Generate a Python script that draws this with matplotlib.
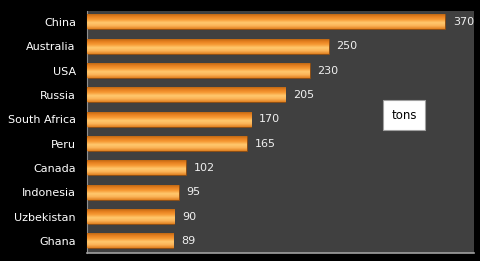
import numpy as np
import matplotlib
matplotlib.use('Agg')
import matplotlib.pyplot as plt
from matplotlib.colors import LinearSegmentedColormap

# gold production data
countries = ['China', 'Australia', 'USA', 'Russia', 'South Africa', 'Peru',
             'Canada', 'Indonesia', 'Uzbekistan', 'Ghana']
tons = [370, 250, 230, 205, 170, 165, 102, 95, 90, 89]

plt.rcParams['font.family'] = ['DejaVu Sans']

fig = plt.figure(figsize=(4.81, 2.61), dpi=100, facecolor='black')
ax = fig.add_axes([87 / 481, 8 / 261, 387 / 481, 242 / 261])
ax.set_facecolor('#404040')

y = np.arange(len(countries))
bars = ax.barh(y, tons, height=0.62, color='#f59a30', edgecolor='#8a4a10',
               linewidth=0.6, zorder=2)

# vertical orange gradient on every bar
grad_cmap = LinearSegmentedColormap.from_list(
    'orange', ['#b0600f', '#e47e1e', '#f79a34', '#ffc86e', '#fbb458', '#e08020'])
grad = np.linspace(0, 1, 64).reshape(-1, 1)
for b in bars:
    x0, y0 = b.get_x(), b.get_y()
    w, h = b.get_width(), b.get_height()
    im = ax.imshow(grad, cmap=grad_cmap, aspect='auto', origin='upper',
                   extent=[x0, x0 + w, y0 + h, y0], zorder=3)
    im.set_clip_path(b)
    ax.text(w + 8, y0 + h / 2, str(w), color='#f0f0f0', fontsize=8,
            va='center', ha='left', zorder=4)

ax.set_xlim(0, 400)
ax.set_ylim(len(countries) - 0.5, -0.45)
ax.set_yticks(y)
ax.set_yticklabels(countries, color='white', fontsize=8)
ax.tick_params(axis='y', length=0, pad=8)
ax.set_xticks([])

for side in ['top', 'right']:
    ax.spines[side].set_visible(False)
ax.spines['left'].set_color('#909090')
ax.spines['bottom'].set_color('#a0a0a0')
ax.spines['bottom'].set_linewidth(1.2)

ax.text(0.8195, 0.57, 'tons', transform=ax.transAxes, fontsize=8.5,
        color='black', ha='center', va='center',
        bbox=dict(boxstyle='square,pad=0.7', facecolor='white',
                  edgecolor='#a0a0a0', linewidth=0.8))

fig.savefig('out.png', dpi=100, facecolor='black')
